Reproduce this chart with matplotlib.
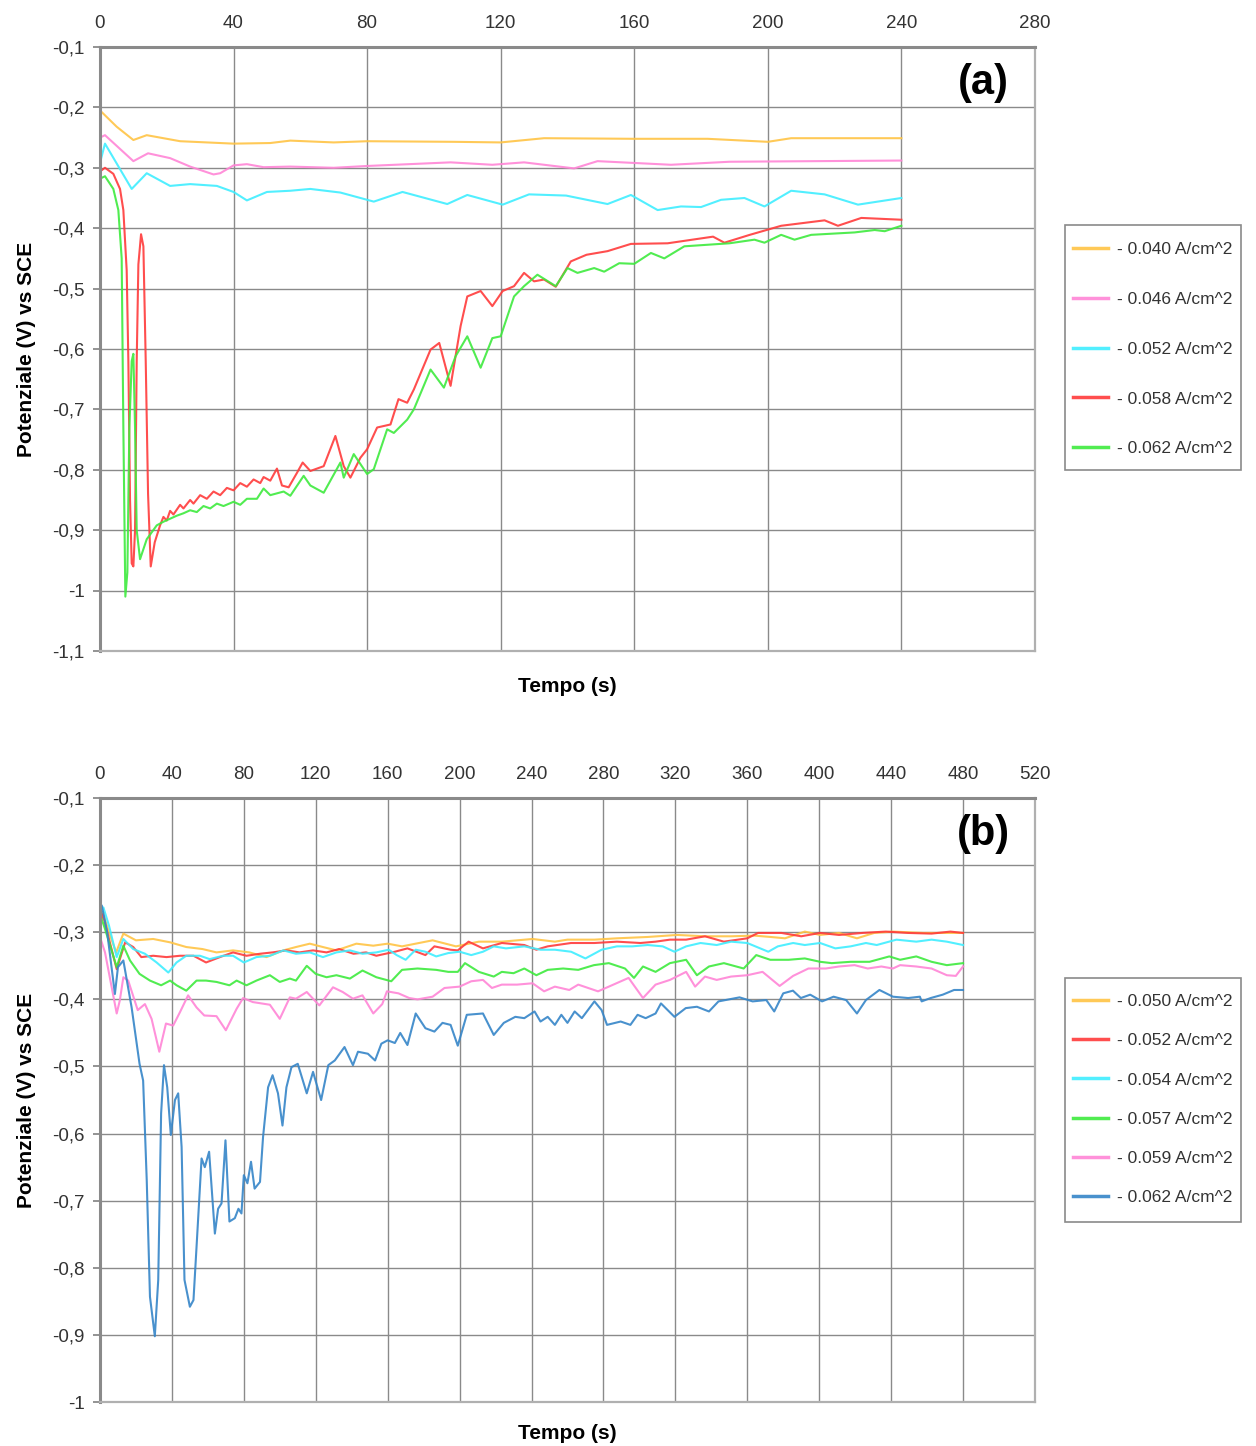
import matplotlib
matplotlib.use("Agg")
import matplotlib.pyplot as plt
from matplotlib.patches import Rectangle
from matplotlib.ticker import FuncFormatter, MultipleLocator

plt.rcParams['font.family'] = ['Liberation Sans', 'DejaVu Sans']

# ---------------- panel (a) data ----------------
labels_a = ['- 0.040 A/cm^2', '- 0.046 A/cm^2', '- 0.052 A/cm^2', '- 0.058 A/cm^2', '- 0.062 A/cm^2']
colors_a = ['#FFC445', '#FF85D6', '#3FEEFF', '#FF3B3B', '#3EEA3E']

t_a040 = [0, 5, 10, 14, 24, 40, 51, 57, 70, 80, 106, 120, 133, 160, 182, 200, 207, 240]
v_a040 = [-0.205, -0.232, -0.254, -0.246, -0.256, -0.260, -0.259, -0.255, -0.258, -0.256,
          -0.257, -0.258, -0.251, -0.252, -0.252, -0.257, -0.251, -0.251]

t_a046 = [0, 1.5, 10, 14.4, 21, 27, 34, 36, 40, 44, 49, 57, 70, 80, 105, 117.5, 127, 142,
          149, 171, 188.5, 240]
v_a046 = [-0.250, -0.246, -0.289, -0.276, -0.284, -0.298, -0.311, -0.309, -0.296, -0.294,
          -0.299, -0.298, -0.300, -0.297, -0.291, -0.295, -0.291, -0.301, -0.289, -0.295,
          -0.290, -0.288]

t_a052 = [0, 1.5, 9.5, 14, 21, 27, 35, 40, 44, 50, 57, 63, 72, 82, 90.6, 104, 110, 120.6,
          128.5, 139.6, 152, 159, 167, 174, 180, 186, 193, 199, 207, 217, 227, 240]
v_a052 = [-0.292, -0.260, -0.335, -0.309, -0.330, -0.327, -0.330, -0.340, -0.354, -0.340,
          -0.338, -0.335, -0.341, -0.356, -0.340, -0.360, -0.345, -0.361, -0.344, -0.346,
          -0.360, -0.345, -0.370, -0.364, -0.365, -0.353, -0.350, -0.364, -0.338, -0.344,
          -0.361, -0.350]

t_a058 = [0, 1.5, 4, 6, 7, 8, 8.5, 9, 9.5, 10, 10.5, 11, 11.5, 12.3, 13, 13.7, 14.4, 15.2,
          16.4, 18, 19, 20, 21, 22, 24, 25, 27, 28, 30, 32, 34, 36, 38, 40, 42, 44, 46, 48,
          49, 51, 53, 54.5, 56.5, 59, 60.7, 63, 67, 70.5, 73, 75, 78, 80, 83, 87, 89.4, 92,
          94, 99, 101.6, 105, 108, 110, 114, 117.5, 120.6, 124, 127, 130, 133, 136.5, 141,
          145.7, 152, 159, 170, 183.6, 187, 194.6, 204, 217, 221, 228, 240]
v_a058 = [-0.306, -0.300, -0.310, -0.335, -0.370, -0.470, -0.620, -0.850, -0.955, -0.960,
          -0.900, -0.620, -0.460, -0.410, -0.430, -0.620, -0.840, -0.960, -0.920, -0.892,
          -0.878, -0.884, -0.868, -0.874, -0.858, -0.864, -0.850, -0.856, -0.842, -0.848,
          -0.836, -0.842, -0.830, -0.834, -0.822, -0.828, -0.816, -0.822, -0.812, -0.818,
          -0.798, -0.826, -0.829, -0.805, -0.788, -0.802, -0.794, -0.744, -0.794, -0.813,
          -0.780, -0.766, -0.730, -0.725, -0.683, -0.689, -0.667, -0.601, -0.590, -0.661,
          -0.562, -0.513, -0.504, -0.529, -0.504, -0.496, -0.474, -0.488, -0.485, -0.497,
          -0.455, -0.444, -0.438, -0.426, -0.425, -0.414, -0.424, -0.411, -0.396, -0.387,
          -0.396, -0.383, -0.386]

t_a062 = [0, 1.5, 4, 5.5, 6.5, 7, 7.6, 8.2, 8.8, 9.5, 10, 10.5, 11, 12, 14, 17, 19, 21, 23,
          25, 27, 29, 31, 33, 35, 37, 40, 42, 44, 47, 49, 51, 53, 55, 57, 61, 63, 67, 72,
          73, 76, 80, 82, 86, 88, 92, 94, 99, 103, 106.5, 110, 114, 117.5, 120, 124, 127,
          131, 136.5, 140, 143, 148, 151, 155.5, 160, 165, 169, 175, 188.5, 196, 199, 204,
          208, 213, 226, 232, 235, 240]
v_a062 = [-0.318, -0.314, -0.335, -0.370, -0.450, -0.730, -1.010, -0.970, -0.730, -0.620,
          -0.608, -0.730, -0.900, -0.948, -0.915, -0.892, -0.886, -0.881, -0.876, -0.872,
          -0.867, -0.870, -0.860, -0.864, -0.856, -0.860, -0.853, -0.858, -0.848, -0.848,
          -0.831, -0.842, -0.839, -0.836, -0.843, -0.810, -0.826, -0.838, -0.788, -0.813,
          -0.774, -0.807, -0.799, -0.733, -0.739, -0.717, -0.700, -0.634, -0.664, -0.612,
          -0.579, -0.631, -0.582, -0.579, -0.513, -0.496, -0.477, -0.496, -0.466, -0.474,
          -0.466, -0.472, -0.458, -0.459, -0.441, -0.450, -0.430, -0.425, -0.419, -0.424,
          -0.411, -0.419, -0.411, -0.407, -0.403, -0.405, -0.396]

# ---------------- panel (b) data ----------------
labels_b = ['- 0.050 A/cm^2', '- 0.052 A/cm^2', '- 0.054 A/cm^2', '- 0.057 A/cm^2',
            '- 0.059 A/cm^2', '- 0.062 A/cm^2']
colors_b = ['#FFC445', '#FF3B3B', '#3FEEFF', '#3EEA3E', '#FF85D6', '#3585C8']

t_b050 = [0, 1.5, 5, 9, 13, 20, 29.6, 39, 48, 57, 64.8, 74, 83, 92.6, 102, 109, 116.7, 124,
          131.5, 142.6, 152, 160, 168, 185, 198, 210.7, 223.5, 240.6, 253, 260, 275, 287.5,
          304.6, 321, 336.5, 351, 364, 373, 381, 392, 400.5, 411, 421, 430.6, 441, 458, 471,
          480]
v_b050 = [-0.278, -0.270, -0.300, -0.330, -0.302, -0.312, -0.310, -0.315, -0.322, -0.325,
          -0.330, -0.327, -0.330, -0.337, -0.327, -0.322, -0.317, -0.322, -0.327, -0.317,
          -0.320, -0.317, -0.321, -0.312, -0.321, -0.314, -0.314, -0.310, -0.314, -0.311,
          -0.311, -0.309, -0.307, -0.304, -0.306, -0.306, -0.305, -0.307, -0.309, -0.299,
          -0.304, -0.301, -0.309, -0.301, -0.299, -0.301, -0.301, -0.301]

t_b052 = [0, 1.5, 5, 9.3, 14, 18.5, 23, 29.6, 37, 44.5, 52, 59, 66.7, 74, 81.5, 89, 96,
          103.7, 111, 118.5, 126, 133, 141, 148, 153.7, 164, 171, 181, 186, 195, 199, 205,
          213, 223.5, 236, 242.7, 249, 262, 275, 287.5, 300.6, 309, 317, 326, 336.5, 347,
          360, 366, 379, 390, 400.5, 411, 424, 437, 449.5, 462.5, 473, 480]
v_b052 = [-0.288, -0.273, -0.310, -0.355, -0.315, -0.322, -0.337, -0.335, -0.337, -0.335,
          -0.335, -0.345, -0.337, -0.330, -0.335, -0.332, -0.330, -0.327, -0.330, -0.327,
          -0.330, -0.325, -0.332, -0.330, -0.335, -0.329, -0.324, -0.334, -0.321, -0.326,
          -0.327, -0.314, -0.324, -0.316, -0.319, -0.326, -0.321, -0.316, -0.316, -0.314,
          -0.316, -0.314, -0.311, -0.311, -0.306, -0.314, -0.309, -0.301, -0.301, -0.306,
          -0.301, -0.304, -0.301, -0.299, -0.301, -0.302, -0.299, -0.301]

t_b054 = [0, 1.9, 5, 9.3, 13, 18.5, 25, 31.5, 38, 42.6, 48, 55.6, 61, 68.5, 74, 80, 87,
          94.5, 102, 109, 116.7, 124, 131.5, 139, 146, 153.7, 160.6, 165, 170, 175.6, 181,
          187, 193.7, 200, 206.5, 213, 219, 225.8, 236, 245, 253, 262, 270, 279, 287.5, 296,
          304.6, 313, 319.5, 326, 334, 343, 351, 360, 371.7, 377, 385.5, 392, 400.5, 409,
          417.5, 426, 432, 443, 454, 462.5, 471, 480]
v_b054 = [-0.268, -0.263, -0.290, -0.337, -0.310, -0.325, -0.332, -0.345, -0.360, -0.345,
          -0.335, -0.335, -0.340, -0.335, -0.335, -0.345, -0.337, -0.335, -0.327, -0.332,
          -0.330, -0.337, -0.330, -0.327, -0.332, -0.330, -0.326, -0.334, -0.341, -0.326,
          -0.329, -0.336, -0.331, -0.329, -0.334, -0.329, -0.321, -0.324, -0.321, -0.326,
          -0.326, -0.329, -0.339, -0.326, -0.321, -0.321, -0.319, -0.321, -0.329, -0.321,
          -0.316, -0.319, -0.314, -0.316, -0.329, -0.321, -0.316, -0.319, -0.316, -0.324,
          -0.321, -0.316, -0.319, -0.311, -0.314, -0.311, -0.314, -0.319]

t_b057 = [0, 2.8, 9.3, 13, 16.7, 22, 27.8, 34, 39, 42.6, 48, 53.7, 59, 64.8, 72, 76, 81.5,
          87, 94.5, 100, 105.6, 109, 115, 120, 126, 131.5, 139, 146, 153.7, 162, 168, 176.6,
          187, 193.7, 199, 203, 210.7, 219, 223.5, 230, 236, 242.7, 249, 257.6, 266, 274.7,
          283, 292, 297, 302, 309, 317, 326, 332, 338.7, 347, 358, 365, 372.8, 383, 392,
          400.5, 407, 417.5, 428, 439, 445, 454, 462.5, 471, 480]
v_b057 = [-0.273, -0.295, -0.352, -0.320, -0.342, -0.362, -0.372, -0.379, -0.372, -0.379,
          -0.387, -0.372, -0.372, -0.374, -0.379, -0.372, -0.379, -0.372, -0.364, -0.374,
          -0.369, -0.372, -0.350, -0.362, -0.367, -0.364, -0.369, -0.357, -0.367, -0.373,
          -0.356, -0.354, -0.356, -0.359, -0.359, -0.346, -0.359, -0.366, -0.359, -0.361,
          -0.354, -0.364, -0.356, -0.354, -0.356, -0.349, -0.346, -0.354, -0.368, -0.351,
          -0.359, -0.346, -0.341, -0.364, -0.351, -0.346, -0.354, -0.334, -0.341, -0.341,
          -0.339, -0.344, -0.346, -0.344, -0.344, -0.336, -0.341, -0.336, -0.344, -0.349,
          -0.346]

t_b059 = [0, 2.8, 9.3, 11, 13, 15.7, 21, 25, 28.7, 33, 36.7, 40.7, 44.5, 49, 53.7, 58,
          64.8, 70, 76, 79.6, 85, 94.5, 100, 105.6, 109, 115, 122, 129.6, 135, 140.7, 146,
          152, 157, 159.6, 166, 172, 176.6, 185, 191.6, 200, 206.5, 213, 218, 223.5, 232,
          240.6, 247, 253, 261, 266, 277, 283, 294, 302, 309, 317, 326, 331, 336.5, 343,
          351, 360, 368.5, 378, 385.5, 394, 403.7, 411, 419.7, 427, 434.6, 441, 445, 454,
          462.5, 471, 476, 480]
v_b059 = [-0.307, -0.330, -0.421, -0.402, -0.367, -0.372, -0.416, -0.407, -0.429, -0.478,
          -0.436, -0.439, -0.419, -0.394, -0.412, -0.424, -0.425, -0.446, -0.414, -0.398,
          -0.404, -0.408, -0.429, -0.397, -0.399, -0.389, -0.409, -0.382, -0.389, -0.399,
          -0.394, -0.421, -0.407, -0.388, -0.391, -0.398, -0.400, -0.396, -0.383, -0.381,
          -0.373, -0.371, -0.383, -0.378, -0.378, -0.376, -0.388, -0.381, -0.386, -0.378,
          -0.388, -0.381, -0.368, -0.398, -0.378, -0.371, -0.359, -0.381, -0.366, -0.371,
          -0.366, -0.364, -0.359, -0.380, -0.365, -0.354, -0.354, -0.351, -0.349, -0.354,
          -0.351, -0.354, -0.349, -0.351, -0.354, -0.364, -0.365, -0.351]

t_b062 = [0, 1, 4, 8.3, 10, 13, 17.6, 22, 24, 26, 27.8, 30.5, 32.4, 34, 35.6, 37.4, 39.4,
          41.7, 43.5, 45.4, 47, 50, 52, 53.7, 56.5, 58.3, 60.7, 63.9, 65.7, 67.6, 69.8, 72,
          75, 77, 78.7, 80, 82, 84, 86, 89, 90.7, 93.5, 96, 99, 101.5, 103.7, 106.5, 110,
          115, 118.5, 123, 127, 130.6, 136, 140.7, 143.5, 149, 153, 156.5, 160, 164, 167,
          171, 175.6, 181, 186, 190.5, 195, 199, 204, 213, 219, 224.6, 231, 236, 241.7, 245,
          249, 253, 256.6, 260, 264, 268, 275, 279, 282, 289.6, 295, 299, 303.5, 309, 312,
          319.5, 325.8, 332, 338.7, 344, 355.7, 363, 370.6, 375, 380, 385.4, 389.8, 395,
          401.6, 408, 415, 421, 426, 433.5, 441, 449.5, 456, 457, 462, 468.7, 475, 480]
v_b062 = [-0.270, -0.260, -0.300, -0.392, -0.352, -0.342, -0.412, -0.496, -0.521, -0.669,
          -0.843, -0.902, -0.818, -0.570, -0.498, -0.531, -0.602, -0.550, -0.540, -0.620,
          -0.818, -0.858, -0.848, -0.769, -0.637, -0.650, -0.627, -0.749, -0.712, -0.704,
          -0.610, -0.731, -0.726, -0.712, -0.719, -0.662, -0.674, -0.642, -0.682, -0.672,
          -0.605, -0.531, -0.513, -0.540, -0.588, -0.531, -0.501, -0.496, -0.540, -0.508,
          -0.550, -0.498, -0.491, -0.471, -0.498, -0.478, -0.481, -0.491, -0.466, -0.461,
          -0.465, -0.450, -0.468, -0.421, -0.443, -0.448, -0.435, -0.438, -0.469, -0.423,
          -0.421, -0.453, -0.435, -0.426, -0.428, -0.418, -0.433, -0.426, -0.438, -0.423,
          -0.435, -0.418, -0.428, -0.403, -0.416, -0.438, -0.433, -0.438, -0.423, -0.428,
          -0.421, -0.406, -0.426, -0.413, -0.411, -0.418, -0.403, -0.397, -0.403, -0.401,
          -0.418, -0.391, -0.387, -0.398, -0.393, -0.403, -0.396, -0.401, -0.421, -0.401,
          -0.386, -0.396, -0.398, -0.396, -0.403, -0.398, -0.393, -0.386, -0.386]

series_a = [(t_a040, v_a040), (t_a046, v_a046), (t_a052, v_a052), (t_a058, v_a058), (t_a062, v_a062)]
series_b = [(t_b050, v_b050), (t_b052, v_b052), (t_b054, v_b054), (t_b057, v_b057),
            (t_b059, v_b059), (t_b062, v_b062)]


def comma_fmt(v, pos):
    s = f"{v:.1f}".replace('.', ',')
    if s.endswith(',0'):
        s = s[:-2]
    return s


def style_axes(ax, xmax, ymin, xlabelpad):
    ax.set_xlim(0, xmax)
    ax.set_ylim(ymin, -0.1)
    ax.xaxis.set_major_locator(MultipleLocator(40))
    ax.yaxis.set_major_locator(MultipleLocator(0.1))
    ax.yaxis.set_major_formatter(FuncFormatter(comma_fmt))
    ax.xaxis.tick_top()
    ax.tick_params(axis='x', length=0, pad=11, labelsize=13.5, labelcolor='#333333')
    ax.tick_params(axis='y', length=5, width=1.2, color='#808080', pad=6,
                   labelsize=13.5, labelcolor='#333333')
    ax.grid(True, color='#8a8a8a', linewidth=1.0)
    ax.set_axisbelow(True)
    for side in ['left', 'top']:
        ax.spines[side].set_color('#8a8a8a')
        ax.spines[side].set_linewidth(2.2)
    for side in ['right', 'bottom']:
        ax.spines[side].set_color('#b0b0b0')
        ax.spines[side].set_linewidth(1.6)
    ax.set_xlabel('Tempo (s)', fontsize=15, fontweight='bold', labelpad=xlabelpad)
    ax.set_ylabel('Potenziale (V) vs SCE', fontsize=15, fontweight='bold', labelpad=12)


fig = plt.figure(figsize=(12.56, 14.46), dpi=100)
fig.patch.set_facecolor('white')

ax_a = fig.add_axes([0.0796, 0.5498, 0.7444, 0.4177])
ax_b = fig.add_axes([0.0796, 0.0304, 0.7444, 0.4177])

for (t, v), c, lab in zip(series_a, colors_a, labels_a):
    ax_a.plot(t, v, color=c, linewidth=1.5, label=lab, alpha=0.9)
style_axes(ax_a, 280, -1.1, 19)
ax_a.text(0.945, 0.94, '(a)', transform=ax_a.transAxes, fontsize=30, fontweight='bold',
          ha='center', va='center')

for (t, v), c, lab in zip(series_b, colors_b, labels_b):
    ax_b.plot(t, v, color=c, linewidth=1.5, label=lab, alpha=0.9)
style_axes(ax_b, 520, -1.0, 16)
ax_b.text(0.945, 0.94, '(b)', transform=ax_b.transAxes, fontsize=30, fontweight='bold',
          ha='center', va='center')

# legends without their own frame; the boxes are drawn separately in figure coords
leg_kw = dict(loc='center left', fontsize=12.5, handlelength=2.0, handletextpad=0.55,
              borderpad=0, frameon=False, borderaxespad=0, bbox_transform=fig.transFigure)
lga = ax_a.legend(bbox_to_anchor=(0.8543, 0.7586), labelspacing=2.0, **leg_kw)
lgb = ax_b.legend(bbox_to_anchor=(0.8543, 0.2396), labelspacing=1.38, **leg_kw)
for lg in (lga, lgb):
    for line in lg.get_lines():
        line.set_linewidth(2.5)
    for txt in lg.get_texts():
        txt.set_color('#333333')

for y0, h in [(0.6750, 0.1694), (0.1549, 0.1687)]:
    fig.patches.append(Rectangle((0.8479, y0), 0.1401, h, transform=fig.transFigure,
                                 fill=False, edgecolor='#8a8a8a', linewidth=1.2))

fig.savefig('out.png', dpi=100, facecolor='white')
